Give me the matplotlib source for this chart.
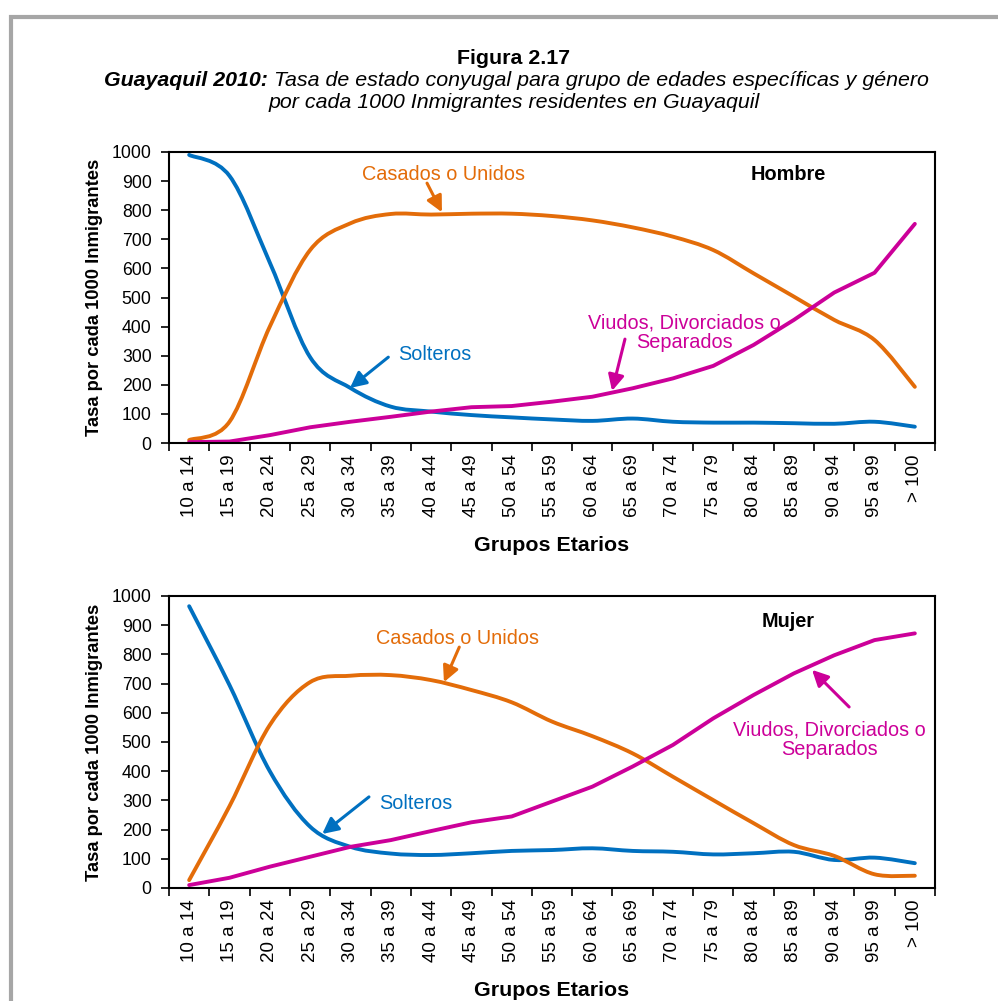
import matplotlib
matplotlib.use("Agg")
import matplotlib.pyplot as plt
from matplotlib.patches import Rectangle, PathPatch
from matplotlib.path import Path

plt.rcParams['font.family'] = ['Liberation Sans', 'DejaVu Sans']

grupos = ["10 a 14", "15 a 19", "20 a 24", "25 a 29", "30 a 34", "35 a 39", "40 a 44",
          "45 a 49", "50 a 54", "55 a 59", "60 a 64", "65 a 69", "70 a 74", "75 a 79",
          "80 a 84", "85 a 89", "90 a 94", "95 a 99", "> 100"]

# Hombre
h_solteros = [990, 918, 620, 295, 189, 125, 108, 96, 88, 81, 76, 84, 73, 70, 70, 68, 66, 73, 56]
h_casados = [10, 73, 400, 663, 755, 787, 785, 788, 788, 780, 765, 741, 709, 663, 583, 503, 423, 354, 193]
h_viudos = [3, 5, 27, 54, 73, 90, 108, 123, 127, 142, 159, 188, 222, 265, 337, 423, 517, 585, 753]

# Mujer
m_solteros = [965, 695, 400, 210, 141, 118, 113, 119, 127, 130, 136, 127, 124, 115, 119, 124, 96, 104, 85]
m_casados = [27, 280, 558, 705, 727, 729, 712, 678, 636, 570, 520, 461, 381, 301, 222, 147, 110, 47, 42]
m_viudos = [10, 35, 73, 107, 141, 164, 195, 225, 245, 296, 347, 416, 490, 581, 661, 735, 797, 849, 872]

AZUL = '#0070C0'
NARANJA = '#E36C09'
MAGENTA = '#CC0099'
LW = 2.8


def linea_suave(ax, xs, ys, color):
    # linea suavizada tipo Excel (curvas Bezier que pasan por cada punto)
    n = len(xs)
    verts = [(xs[0], ys[0])]
    codes = [Path.MOVETO]
    for i in range(n - 1):
        i0 = max(i - 1, 0)
        i3 = min(i + 2, n - 1)
        c1 = (xs[i] + (xs[i + 1] - xs[i0]) / 6, ys[i] + (ys[i + 1] - ys[i0]) / 6)
        c2 = (xs[i + 1] - (xs[i3] - xs[i]) / 6, ys[i + 1] - (ys[i3] - ys[i]) / 6)
        verts += [c1, c2, (xs[i + 1], ys[i + 1])]
        codes += [Path.CURVE4] * 3
    ax.add_patch(PathPatch(Path(verts, codes), fill=False, ec=color, lw=LW,
                           joinstyle='round', capstyle='round'))


fig = plt.figure(figsize=(9.98, 10.01), dpi=100)

# marco gris
fig.add_artist(Rectangle((11 / 998, -0.2), 1.5, 1.2 - 17 / 1001, transform=fig.transFigure,
                         fill=False, ec='#A6A6A6', lw=3))

ax1 = fig.add_axes([169 / 998, 1 - 443 / 1001, 766 / 998, 291 / 1001])
ax2 = fig.add_axes([169 / 998, 1 - 888 / 1001, 766 / 998, 292 / 1001])

TF = 15.4
fig.text(514 / 998, 1 - 58 / 1001, "Figura 2.17", ha='center', va='center',
         fontsize=TF, fontweight='bold')
t1 = fig.text(104 / 998, 1 - 80 / 1001, "Guayaquil 2010:", ha='left', va='center',
              fontsize=TF, fontweight='bold', style='italic')
ax1.annotate(" Tasa de estado conyugal para grupo de edades específicas y género",
             xy=(1, 0.5), xycoords=t1, ha='left', va='center', fontsize=TF, style='italic',
             annotation_clip=False)
fig.text(514 / 998, 1 - 103 / 1001, "por cada 1000 Inmigrantes residentes en Guayaquil",
         ha='center', va='center', fontsize=TF, style='italic')

x = list(range(len(grupos)))
for ax, sol, cas, viu in [(ax1, h_solteros, h_casados, h_viudos),
                          (ax2, m_solteros, m_casados, m_viudos)]:
    linea_suave(ax, x, sol, AZUL)
    linea_suave(ax, x, cas, NARANJA)
    ax.plot(x, viu, color=MAGENTA, lw=LW, solid_joinstyle='round', solid_capstyle='round')
    ax.set_xlim(-0.5, len(grupos) - 0.5)
    ax.set_ylim(0, 1000)
    ax.set_yticks(range(0, 1001, 100))
    ax.set_xticks([i - 0.5 for i in range(len(grupos) + 1)])
    ax.set_xticklabels([])
    ax.set_xticks(x, minor=True)
    ax.set_xticklabels(grupos, minor=True, rotation=90, fontsize=13.5)
    ax.tick_params(axis='x', which='minor', length=0, pad=8)
    ax.tick_params(axis='both', which='major', direction='out', length=6, width=1.2)
    ax.tick_params(axis='y', labelsize=12.7, pad=6.5)
    for s in ax.spines.values():
        s.set_linewidth(1.5)
    ax.set_ylabel("Tasa por cada 1000 Inmigrantes", fontsize=13.2, fontweight='bold', labelpad=6)
    ax.set_xlabel("Grupos Etarios", fontsize=15.4, fontweight='bold', labelpad=14)

arrow = lambda c: dict(arrowstyle='-|>', color=c, lw=2.2, mutation_scale=24, shrinkA=0, shrinkB=0)
AF = 14.3

# Hombre anotaciones
ax1.text(6.30, 923, "Casados o Unidos", color=NARANJA, fontsize=AF, ha='center', va='center')
ax1.annotate("", xy=(6.27, 793), xytext=(5.90, 893), arrowprops=arrow(NARANJA))
ax1.text(6.08, 305, "Solteros", color=AZUL, fontsize=AF, ha='center', va='center')
ax1.annotate("", xy=(3.99, 189), xytext=(4.94, 295), arrowprops=arrow(AZUL))
ax1.text(12.28, 378, "Viudos, Divorciados o\nSeparados", color=MAGENTA, fontsize=AF,
         ha='center', va='center', linespacing=1.05)
ax1.annotate("", xy=(10.49, 179), xytext=(10.81, 357), arrowprops=arrow(MAGENTA))
ax1.text(14.86, 923, "Hombre", fontsize=AF, fontweight='bold', ha='center', va='center')

# Mujer anotaciones
ax2.text(6.65, 856, "Casados o Unidos", color=NARANJA, fontsize=AF, ha='center', va='center')
ax2.annotate("", xy=(6.32, 705), xytext=(6.70, 825), arrowprops=arrow(NARANJA))
ax2.text(5.63, 291, "Solteros", color=AZUL, fontsize=AF, ha='center', va='center')
ax2.annotate("", xy=(3.30, 185), xytext=(4.46, 312), arrowprops=arrow(AZUL))
ax2.text(15.87, 507, "Viudos, Divorciados o\nSeparados", color=MAGENTA, fontsize=AF,
         ha='center', va='center', linespacing=1.05)
ax2.annotate("", xy=(15.45, 747), xytext=(16.37, 620), arrowprops=arrow(MAGENTA))
ax2.text(14.86, 911, "Mujer", fontsize=AF, fontweight='bold', ha='center', va='center')

fig.savefig("out.png", dpi=100)
